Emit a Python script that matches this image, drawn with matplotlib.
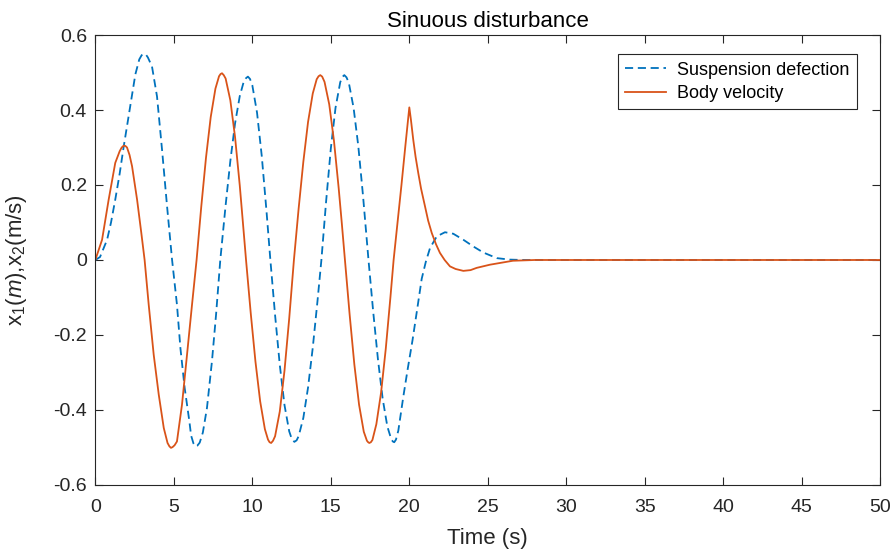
import numpy as np
import matplotlib
matplotlib.use("Agg")
import matplotlib.pyplot as plt

# values
t_susp = [0, 0.3, 0.75, 1.0, 1.27, 1.55, 1.81, 2.05, 2.3, 2.55, 2.8, 2.95, 3.08, 3.22,
          3.35, 3.61, 3.93, 4.25, 4.57, 4.89, 5.2, 5.42, 5.69, 5.99, 6.1, 6.25, 6.37,
          6.5, 6.65, 6.85, 7.11, 7.43, 7.69, 7.96, 8.3, 8.6, 8.9, 9.2, 9.45, 9.6, 9.72,
          9.85, 10.0, 10.3, 10.6, 10.9, 11.15, 11.45, 11.75, 12.05, 12.35, 12.52, 12.68,
          12.82, 12.95, 13.25, 13.55, 13.85, 14.15, 14.4, 14.7, 15.0, 15.3, 15.6, 15.73,
          15.86, 16.0, 16.15, 16.45, 16.75, 17.05, 17.4, 17.7, 18.0, 18.3, 18.6, 18.85,
          18.95, 19.04, 19.15, 19.3, 19.62, 19.9, 20.2, 20.47, 20.79, 21.05, 21.32,
          21.75, 22.27, 22.8, 23.44, 24.08, 24.71, 25.57, 26.4, 27.3, 30, 35, 40, 45, 50]
susp = [0, 0.008, 0.054, 0.10, 0.161, 0.23, 0.303, 0.365, 0.43, 0.495, 0.535, 0.546,
        0.55, 0.548, 0.54, 0.516, 0.436, 0.294, 0.143, 0.0, -0.119, -0.235, -0.341,
        -0.430, -0.468, -0.489, -0.497, -0.495, -0.487, -0.46, -0.395, -0.270, -0.146,
        0.0, 0.146, 0.264, 0.364, 0.437, 0.475, 0.485, 0.489, 0.483, 0.466, 0.393,
        0.278, 0.132, 0.0, -0.147, -0.280, -0.387, -0.457, -0.478, -0.485, -0.481,
        -0.470, -0.421, -0.340, -0.234, -0.110, 0.0, 0.156, 0.297, 0.406, 0.474, 0.488,
        0.493, 0.487, 0.472, 0.406, 0.304, 0.172, 0.0, -0.138, -0.264, -0.369, -0.444,
        -0.478, -0.484, -0.486, -0.479, -0.455, -0.364, -0.29, -0.215, -0.14, -0.05,
        -0.005, 0.032, 0.063, 0.074, 0.070, 0.054, 0.036, 0.020, 0.005, 0.001, 0, 0,
        0, 0, 0, 0]

t_body = [0, 0.43, 0.85, 1.27, 1.55, 1.68, 1.81, 1.92, 2.02, 2.18, 2.34, 2.66, 2.93,
          3.14, 3.40, 3.72, 4.04, 4.36, 4.6, 4.72, 4.82, 4.92, 5.05, 5.2, 5.52, 5.84,
          6.16, 6.45, 6.75, 7.05, 7.35, 7.65, 7.88, 7.98, 8.07, 8.18, 8.3, 8.6, 8.9,
          9.2, 9.4, 9.6, 9.9, 10.2, 10.5, 10.8, 11.0, 11.1, 11.2, 11.32, 11.45, 11.75,
          12.05, 12.35, 12.65, 12.95, 13.25, 13.55, 13.85, 14.1, 14.22, 14.33, 14.45,
          14.6, 14.9, 15.2, 15.5, 15.7, 15.9, 16.2, 16.5, 16.8, 17.1, 17.3, 17.38,
          17.45, 17.55, 17.65, 17.9, 18.2, 18.5, 18.8, 19.0, 19.25, 19.5, 19.75, 20.0,
          20.1, 20.25, 20.4, 20.57, 20.75, 21.0, 21.2, 21.43, 21.7, 21.95, 22.25, 22.59,
          22.95, 23.44, 23.9, 24.29, 25.14, 26.6, 28, 30, 35, 40, 45, 50]
body = [0, 0.054, 0.161, 0.259, 0.29, 0.30, 0.305, 0.304, 0.30, 0.28, 0.25, 0.161,
        0.072, 0.0, -0.119, -0.253, -0.359, -0.448, -0.488, -0.497, -0.501, -0.499,
        -0.494, -0.484, -0.386, -0.253, -0.119, 0.0, 0.143, 0.273, 0.381, 0.457, 0.49,
        0.496, 0.498, 0.493, 0.484, 0.426, 0.328, 0.199, 0.10, 0.0, -0.142, -0.271,
        -0.377, -0.451, -0.479, -0.486, -0.488, -0.482, -0.470, -0.404, -0.295, -0.156,
        0.0, 0.137, 0.262, 0.368, 0.444, 0.482, 0.49, 0.493, 0.489, 0.475, 0.415, 0.318,
        0.192, 0.098, 0.0, -0.146, -0.279, -0.386, -0.458, -0.482, -0.486, -0.488,
        -0.486, -0.480, -0.438, -0.354, -0.237, -0.098, 0.0, 0.10, 0.20, 0.305, 0.407,
        0.375, 0.321, 0.275, 0.232, 0.19, 0.143, 0.105, 0.072, 0.042, 0.019, 0.0,
        -0.017, -0.024, -0.029, -0.027, -0.021, -0.0125, -0.002, 0, 0, 0, 0, 0, 0]

xticks = [0, 5, 10, 15, 20, 25, 30, 35, 40, 45, 50]
yticks = [-0.6, -0.4, -0.2, 0, 0.2, 0.4, 0.6]
ytick_labels = ["-0.6", "-0.4", "-0.2", "0", "0.2", "0.4", "0.6"]

plt.rcParams['font.family'] = ['Liberation Sans', 'DejaVu Sans']
plt.rcParams['mathtext.fontset'] = 'custom'
plt.rcParams['mathtext.rm'] = 'Liberation Sans'
plt.rcParams['mathtext.it'] = 'Liberation Sans:italic'

axcol = '#262626'

fig = plt.figure(figsize=(8.9, 5.53), dpi=100)
ax = fig.add_axes([0.1071, 0.123, 0.8820, 0.8137])

ax.plot(t_susp, susp, color='#0072BD', lw=1.3, linestyle=(0, (4.5, 2.6)),
        label='Suspension defection')
ax.plot(t_body, body, color='#D95319', lw=1.3, label='Body velocity')

ax.set_xlim(0, 50)
ax.set_ylim(-0.6, 0.6)
ax.set_xticks(xticks)
ax.set_yticks(yticks)
ax.set_yticklabels(ytick_labels)

ax.tick_params(direction='in', length=5.5, width=0.8, colors=axcol,
               labelsize=14, top=True, right=True)
ax.tick_params(axis='x', pad=10)
ax.tick_params(axis='y', pad=6)
for s in ax.spines.values():
    s.set_color(axcol)
    s.set_linewidth(0.8)

ax.set_title('Sinuous disturbance', fontsize=16, color='k')
ax.set_xlabel('Time (s)', fontsize=16, color=axcol)
ax.xaxis.set_label_coords(0.5, -0.095)
ax.set_ylabel(r'x$_1$($\mathit{m}$),x$_2$(m/s)', fontsize=16, color=axcol)
ax.yaxis.set_label_coords(-0.085, 0.5)

leg = ax.legend(loc='upper right', bbox_to_anchor=(0.970, 0.957), borderaxespad=0,
                fontsize=13, fancybox=False, framealpha=1, edgecolor=axcol,
                handlelength=2.3, handletextpad=0.6, labelspacing=0.35, borderpad=0.4)
leg.get_frame().set_linewidth(0.8)

fig.savefig('out.png', dpi=100)
